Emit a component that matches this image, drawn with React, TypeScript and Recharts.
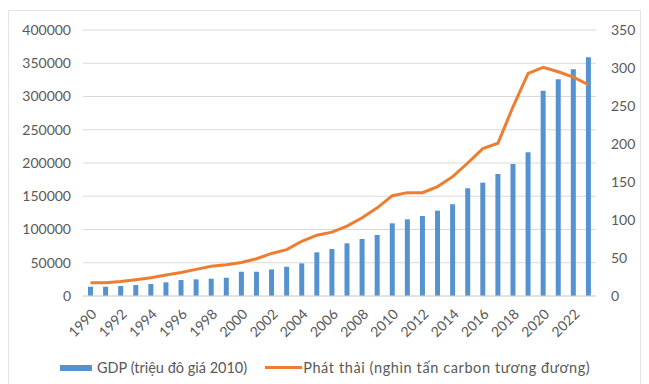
import { Bar, CartesianGrid, ComposedChart, Legend, Line, XAxis, YAxis } from "recharts";

const years = [
  "1990", "1991", "1992", "1993", "1994", "1995", "1996", "1997", "1998", "1999",
  "2000", "2001", "2002", "2003", "2004", "2005", "2006", "2007", "2008", "2009",
  "2010", "2011", "2012", "2013", "2014", "2015", "2016", "2017", "2018", "2019",
  "2020", "2021", "2022", "2023",
];

// GDP, million USD at 2010 prices
const gdp = [
  14000, 14000, 15000, 16500, 18000, 20600, 24000, 25000, 26000, 27500,
  36500, 36500, 40000, 44000, 49000, 65700, 70700, 79200, 85700, 91700,
  109300, 115300, 120300, 128300, 138000, 162000, 170500, 183500, 198500, 216000,
  308800, 326000, 341000, 359000,
];

// emissions, thousand tonnes CO2e
const emissions = [
  17.5, 17.5, 19, 21.5, 24, 27.5, 31, 35, 39, 41,
  44, 49, 56, 61, 72, 80, 84, 92, 103, 116,
  132, 136, 136, 144, 157, 175, 194, 201, 249, 293,
  301, 295, 288, 278,
];

const leftTicks = [0, 50000, 100000, 150000, 200000, 250000, 300000, 350000, 400000];
const rightTicks = [0, 50, 100, 150, 200, 250, 300, 350];

const data = years.map((year, i) => ({ year, gdp: gdp[i], emissions: emissions[i] }));

const BLUE = "#5593d0";
const ORANGE = "#ed7d31";
const TEXT = "#595959";
const FONT = "Lato, 'Open Sans', sans-serif";

function LegendContent({ payload }: { payload?: any[] }) {
  return (
    <div
      style={{
        display: "flex",
        justifyContent: "flex-start",
        alignItems: "center",
        fontFamily: FONT,
        fontSize: 14.5,
        color: TEXT,
        paddingLeft: 60,
      }}
    >
      {(payload ?? []).map((entry) => (
        <div key={entry.value} style={{ display: "flex", alignItems: "center", marginRight: 18 }}>
          {entry.type === "line" ? (
            <span style={{ display: "inline-block", width: 37, height: 3, background: entry.color, marginRight: 1 }} />
          ) : (
            <span style={{ display: "inline-block", width: 32, height: 6, background: entry.color, marginRight: 5 }} />
          )}
          <span style={{ letterSpacing: entry.type === "line" ? 0.6 : 0 }}>{entry.value}</span>
        </div>
      ))}
    </div>
  );
}

export default function App() {
  return (
    <div style={{ position: "relative", width: 649, height: 384, background: "#fff" }}>
      <style>{`body{margin:0;background:#fff}`}</style>
      <div
        style={{
          position: "absolute",
          left: 8,
          top: 10,
          width: 633,
          height: 380,
          border: "1px solid #e3e3e3",
          boxSizing: "border-box",
        }}
      />
      <div style={{ position: "absolute", left: 0, top: 0 }}>
        <ComposedChart width={649} height={384} data={data} margin={{ top: 30, right: 0, bottom: 5, left: 0 }} barCategoryGap={0}>
          <CartesianGrid yAxisId="left" vertical={false} stroke="#d9d9d9" strokeWidth={1} />
          <XAxis
            dataKey="year"
            interval={1}
            axisLine={{ stroke: "#d9d9d9" }}
            tickLine={false}
            tickSize={0}
            tickMargin={12}
            height={63}
            angle={-45}
            textAnchor="end"
            tick={{ fill: TEXT, fontSize: 14, fontFamily: FONT }}
          />
          <YAxis
            yAxisId="left"
            domain={[0, 400000]}
            ticks={leftTicks}
            width={83}
            axisLine={false}
            tickLine={false}
            tickSize={0}
            tickMargin={12}
            tick={{ fill: TEXT, fontSize: 14, fontFamily: FONT }}
          />
          <YAxis
            yAxisId="right"
            orientation="right"
            domain={[0, 350]}
            ticks={rightTicks}
            width={53}
            axisLine={false}
            tickLine={false}
            tickSize={0}
            tickMargin={15}
            tick={{ fill: TEXT, fontSize: 14, fontFamily: FONT }}
          />
          <Legend verticalAlign="bottom" height={20} content={<LegendContent />} />
          <Bar
            yAxisId="left"
            dataKey="gdp"
            name="GDP (triệu đô giá 2010)"
            fill={BLUE}
            barSize={5}
            legendType="rect"
            isAnimationActive={false}
          />
          <Line
            yAxisId="right"
            type="linear"
            dataKey="emissions"
            name="Phát thải (nghìn tấn carbon tương đương)"
            stroke={ORANGE}
            strokeWidth={3}
            dot={false}
            legendType="line"
            isAnimationActive={false}
          />
        </ComposedChart>
      </div>
    </div>
  );
}
